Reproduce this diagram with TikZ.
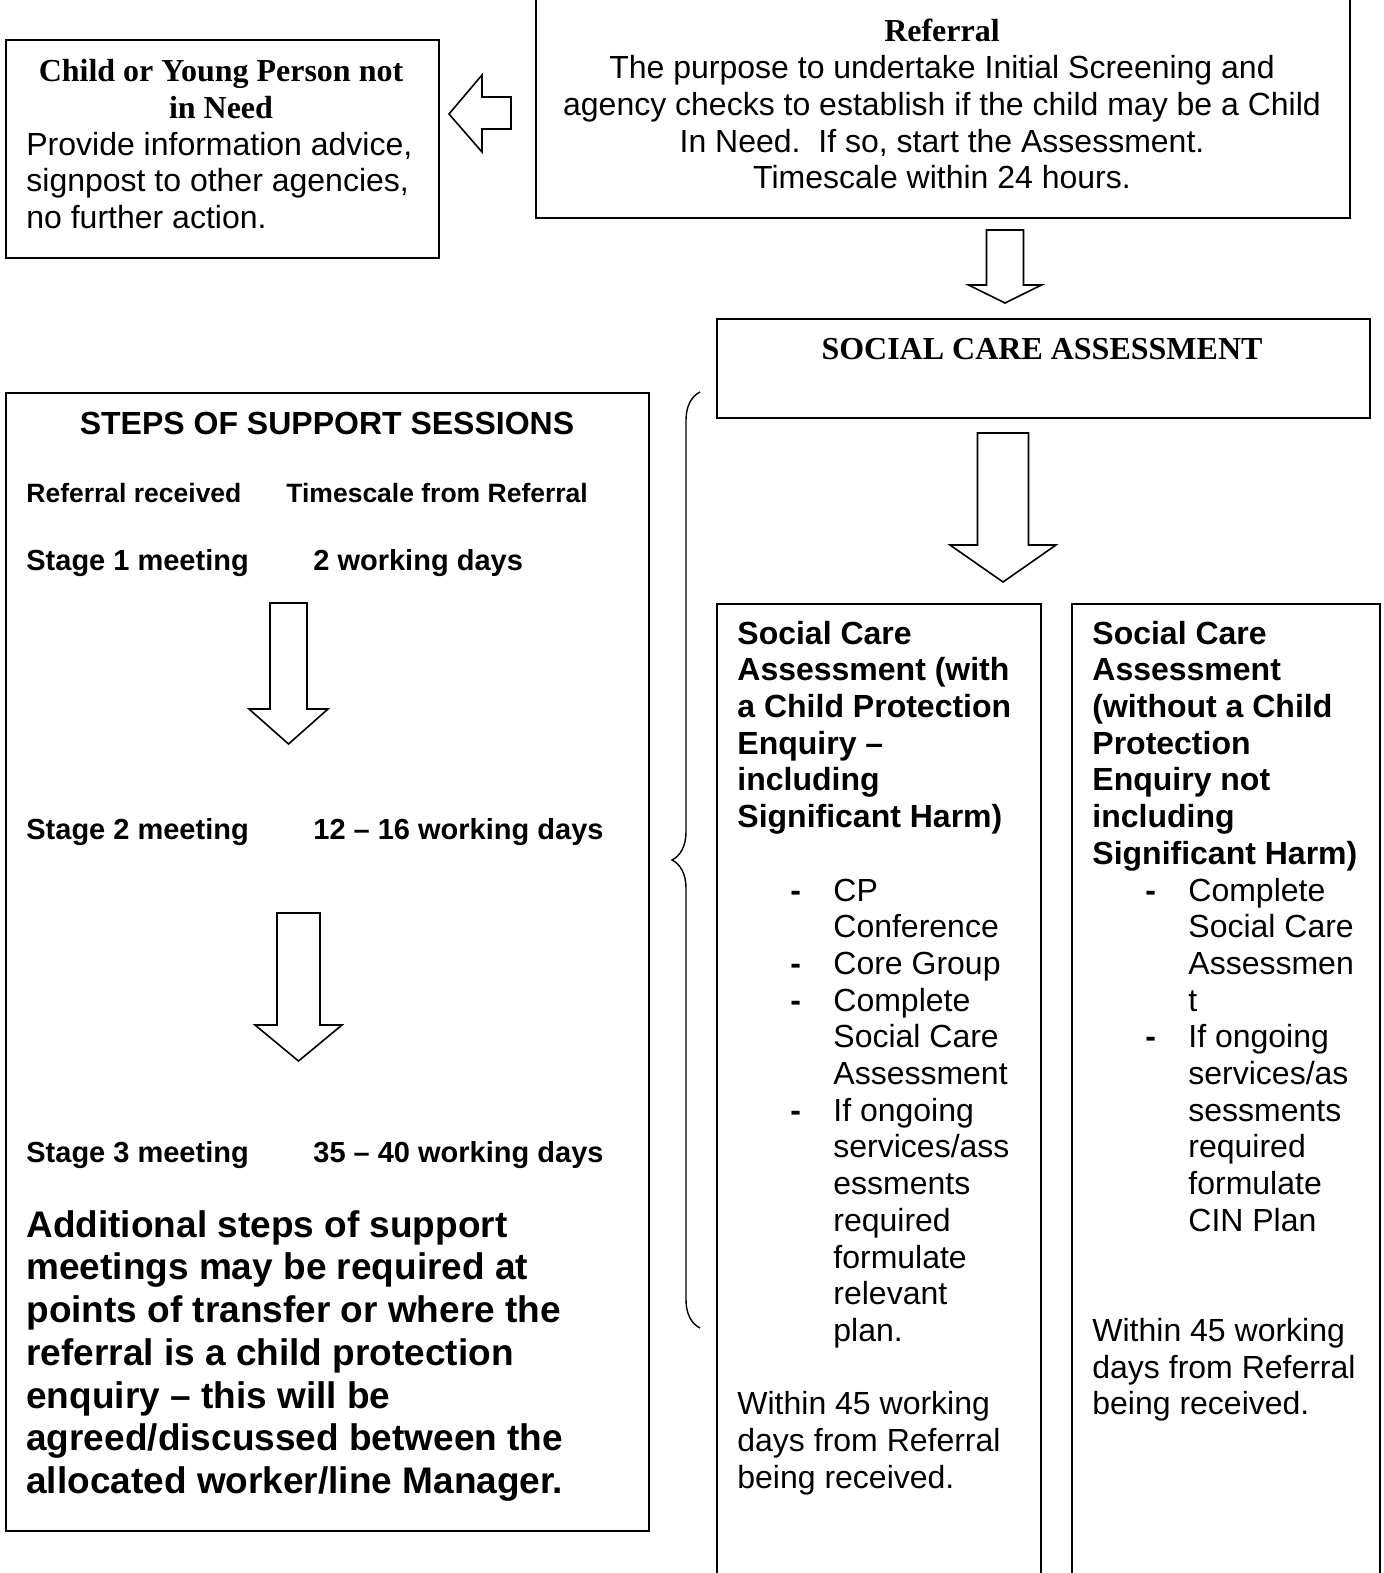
\documentclass[tikz,border=0pt]{standalone}
\usepackage{fontspec}
\setmainfont{Liberation Sans}
\newfontfamily\timesfont{Liberation Serif}
\usepackage{tikz}
\usetikzlibrary{positioning,decorations.pathreplacing}

% bullet lines inside the assessment boxes
\newcommand\dashitem[1]{\hspace*{26.5pt}\makebox[21.5pt][l]{\textbf{-}}#1}
\newcommand\dashcont[1]{\hspace*{48pt}#1}

\tikzset{
  frame/.style={draw, line width=0.9pt, anchor=north west, inner sep=0pt},
  txt/.style={inner sep=0pt, align=left, font=\fontsize{16}{18.35}\selectfont},
  sanshead/.style={inner sep=0pt, font=\fontsize{16}{18.35}\selectfont\bfseries},
  serifhead/.style={inner sep=0pt, align=center, font=\fontsize{16}{18.2}\selectfont\timesfont\bfseries},
  stage/.style={inner sep=0pt, anchor=base west, font=\fontsize{14.5}{17}\selectfont\bfseries},
  small/.style={inner sep=0pt, anchor=base west, font=\fontsize{13.25}{15}\selectfont\bfseries},
  note/.style={inner sep=0pt, align=left, font=\fontsize{18.5}{21.35}\selectfont\bfseries},
  hollow/.style={draw, line width=0.8pt, fill=white, line join=miter},
}

\begin{document}
\begin{tikzpicture}[x=0.5pt, y=-0.5pt]
  \useasboundingbox (0,0) rectangle (1383,1573);
  \clip (0,0) rectangle (1383,1573);

  % boxes
  \node[frame, minimum width=216.5pt, minimum height=109pt] (notneed) at (5,39) {};
  \node[frame, minimum width=407pt, minimum height=113.5pt] (referral) at (535,-10) {};
  \node[frame, minimum width=326.5pt, minimum height=49.5pt] (sca) at (716,318) {};
  \node[frame, minimum width=321.5pt, minimum height=569pt] (steps) at (5,392) {};
  \node[frame, minimum width=162pt, minimum height=500pt] (withcp) at (716,603) {};
  \node[frame, minimum width=154pt, minimum height=500pt] (withoutcp) at (1071,603) {};

  % top row
  \node[serifhead, anchor=north] (notneedhead) at (221,59) {Child or Young Person not\\ in Need};
  \node[txt, anchor=north west] (notneedtext) at (26,131.5)
    {Provide information advice,\\ signpost to other agencies,\\ no further action.};
  \node[txt, align=center, anchor=north] (referraltext) at (942,19)
    {{\timesfont\bfseries Referral}\\
     The purpose to undertake Initial Screening and\\
     agency checks to establish if the child may be a Child\\
     In Need.\ \ If so, start the Assessment.\\
     Timescale within 24 hours.};
  \node[serifhead, anchor=base] (scahead) at (1042,359) {SOCIAL CARE ASSESSMENT};

  % steps of support
  \node[sanshead, anchor=base] (stepshead) at (327,434.5) {STEPS OF SUPPORT SESSIONS};
  \node[small] (refrec) at (26,502.5) {Referral received};
  \node[small] (refscale) at (286,502.5) {Timescale from Referral};
  \node[stage] (stage1) at (26,570.4) {Stage 1 meeting};
  \node[stage] (days1) at (313,570.4) {2 working days};
  \node[stage] (stage2) at (26,839.4) {Stage 2 meeting};
  \node[stage] (days2) at (313,839.4) {12 – 16 working days};
  \node[stage] (stage3) at (26,1162.4) {Stage 3 meeting};
  \node[stage] (days3) at (313,1162.4) {35 – 40 working days};
  \node[note, anchor=north west] (extra) at (26,1210)
    {Additional steps of support\\ meetings may be required at\\ points of transfer or where the\\
     referral is a child protection\\ enquiry – this will be\\ agreed/discussed between the\\
     allocated worker/line Manager.};

  % assessment outcomes
  \node[txt, anchor=north west] (withcptext) at (737,620.5)
    {\textbf{Social Care}\\ \textbf{Assessment (with}\\ \textbf{a Child Protection}\\
     \textbf{Enquiry –}\\ \textbf{including}\\ \textbf{Significant Harm)}\\ \mbox{}\\
     \dashitem{CP}\\ \dashcont{Conference}\\ \dashitem{Core Group}\\ \dashitem{Complete}\\
     \dashcont{Social Care}\\ \dashcont{Assessment}\\ \dashitem{If ongoing}\\
     \dashcont{services/ass}\\ \dashcont{essments}\\ \dashcont{required}\\
     \dashcont{formulate}\\ \dashcont{relevant}\\ \dashcont{plan.}\\ \mbox{}\\
     Within 45 working\\ days from Referral\\ being received.};
  \node[txt, anchor=north west] (withouttext) at (1092,620.5)
    {\textbf{Social Care}\\ \textbf{Assessment}\\ \textbf{(without a Child}\\
     \textbf{Protection}\\ \textbf{Enquiry not}\\ \textbf{including}\\ \textbf{Significant Harm)}\\
     \dashitem{Complete}\\ \dashcont{Social Care}\\ \dashcont{Assessmen}\\ \dashcont{t}\\
     \dashitem{If ongoing}\\ \dashcont{services/as}\\ \dashcont{sessments}\\
     \dashcont{required}\\ \dashcont{formulate}\\ \dashcont{CIN Plan}\\ \mbox{}\\ \mbox{}\\
     Within 45 working\\ days from Referral\\ being received.};

  % hollow block arrows
  \draw[hollow] (511,97) -- (482,97) -- (482,75) -- (449,114) -- (482,152) -- (482,129) -- (511,129) -- cycle;
  \draw[hollow] (986.5,230) -- (1023.5,230) -- (1023.5,285) -- (1041.5,285) -- (1005,303) -- (968.5,285) -- (986.5,285) -- cycle;
  \draw[hollow] (977.5,433) -- (1028.5,433) -- (1028.5,545) -- (1056,545) -- (1003,582) -- (950,545) -- (977.5,545) -- cycle;
  \draw[hollow] (270,603) -- (307,603) -- (307,709) -- (328,709) -- (288.5,744) -- (249,709) -- (270,709) -- cycle;
  \draw[hollow] (277,913) -- (320,913) -- (320,1025) -- (342,1025) -- (298.5,1061) -- (255,1025) -- (277,1025) -- cycle;

  % brace
  \coordinate (bracetop) at (700,392);
  \coordinate (bracebot) at (700,1328);
  \draw[line width=0.7pt, decorate, decoration={brace, amplitude=14pt}] (bracebot) -- (bracetop);
\end{tikzpicture}
\end{document}
